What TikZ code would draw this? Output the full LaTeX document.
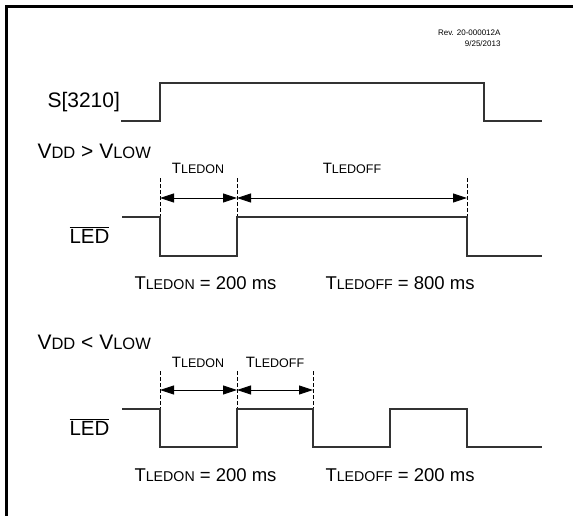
\documentclass[tikz,border=0pt]{standalone}
\usepackage{fontspec}
\setmainfont{Liberation Sans}
\usetikzlibrary{arrows.meta,positioning}
\tikzset{>={Triangle[length=14pt,width=9pt]}}
\newcommand{\headsc}[2]{{\fontsize{21}{24}\selectfont #1}{\fontsize{16.5}{20}\selectfont #2}}
\newcommand{\tagsc}[2]{{\fontsize{15}{18}\selectfont #1}{\fontsize{12.5}{15}\selectfont #2}}
\newcommand{\valsc}[2]{{\fontsize{18.5}{22}\selectfont #1}{\fontsize{14.2}{17}\selectfont #2}}

\begin{document}
\begin{tikzpicture}[x=1pt,y=-1pt,
        wave/.style={line width=1.1pt,draw=black!80},
        guide/.style={dash pattern=on 3.5pt off 2.5pt,line width=.8pt},
        span/.style={<->,line width=.9pt},
        head/.style={anchor=west,font=\fontsize{21}{24}\selectfont},
        value/.style={anchor=west,font=\fontsize{18.5}{22}\selectfont}]
        \useasboundingbox (0,0) rectangle (573,516);
        \draw[line width=3pt] (6.5,516) -- (6.5,6.5) -- (573,6.5);
        \node (rev) at (504,38.5) [anchor=east,align=right,font=\fontsize{8}{11}\selectfont] {Rev. 20-000012A\\9/25/2013};

        % S[3210]
        \node (sig) at (44,102) [head] {S[3210]};
        \draw[wave] (121,121) -- (160,121) -- (160,83) -- (484,83) -- (484,121) -- (542,121);

        % VDD > VLOW
        \node (hiA) at (34,151) [head] {\headsc{V}{DD} > \headsc{V}{LOW}};
        \coordinate (A) at (160,178);
        \coordinate (B) at (237,178);
        \coordinate (C) at (467,178);
        \coordinate (A1) at (160,217);
        \coordinate (B1) at (237,217);
        \coordinate (C1) at (467,217);
        \coordinate (A2) at (160,198);
        \coordinate (B2) at (237,198);
        \coordinate (C2) at (467,198);
        \draw[guide] (A) -- (A1);
        \draw[guide] (B) -- (B1);
        \draw[guide] (C) -- (C1);
        \draw[span] (A2) -- (B2);
        \draw[span] (B2) -- (C2);
        \node (onA) at (198,168) {\tagsc{T}{LEDON}};
        \node (offA) at (352,168) {\tagsc{T}{LEDOFF}};
        \node (ledA) at (66,235) [anchor=west] {\fontsize{20.5}{24}\selectfont$\overline{\hbox{LED}}$};
        \draw[wave] (122,217) -- (A1) -- (160,256) -- (237,256) -- (B1) -- (C1) -- (467,256) -- (542,256);
        \node (valonA) at (131,283) [value] {\valsc{T}{LEDON} = 200 ms};
        \node (valoffA) at (322,283) [value] {\valsc{T}{LEDOFF} = 800 ms};

        % VDD < VLOW
        \node (hiB) at (34,342) [head] {\headsc{V}{DD} < \headsc{V}{LOW}};
        \coordinate (D) at (160,371);
        \coordinate (E) at (237,371);
        \coordinate (F) at (313,371);
        \coordinate (D1) at (160,409);
        \coordinate (E1) at (237,409);
        \coordinate (F1) at (313,409);
        \coordinate (D2) at (160,390);
        \coordinate (E2) at (237,390);
        \coordinate (F2) at (313,390);
        \draw[guide] (D) -- (D1);
        \draw[guide] (E) -- (E1);
        \draw[guide] (F) -- (F1);
        \draw[span] (D2) -- (E2);
        \draw[span] (E2) -- (F2);
        \node (onB) at (198,362) {\tagsc{T}{LEDON}};
        \node (offB) at (275,362) {\tagsc{T}{LEDOFF}};
        \node (ledB) at (66,427) [anchor=west] {\fontsize{20.5}{24}\selectfont$\overline{\hbox{LED}}$};
        \draw[wave] (122,409) -- (D1) -- (160,447) -- (237,447) -- (E1) -- (F1) -- (313,447) -- (390,447) -- (390,409) -- (467,409) -- (467,447) -- (542,447);
        \node (valonB) at (131,475) [value] {\valsc{T}{LEDON} = 200 ms};
        \node (valoffB) at (322,475) [value] {\valsc{T}{LEDOFF} = 200 ms};
    \end{tikzpicture}
\end{document}
